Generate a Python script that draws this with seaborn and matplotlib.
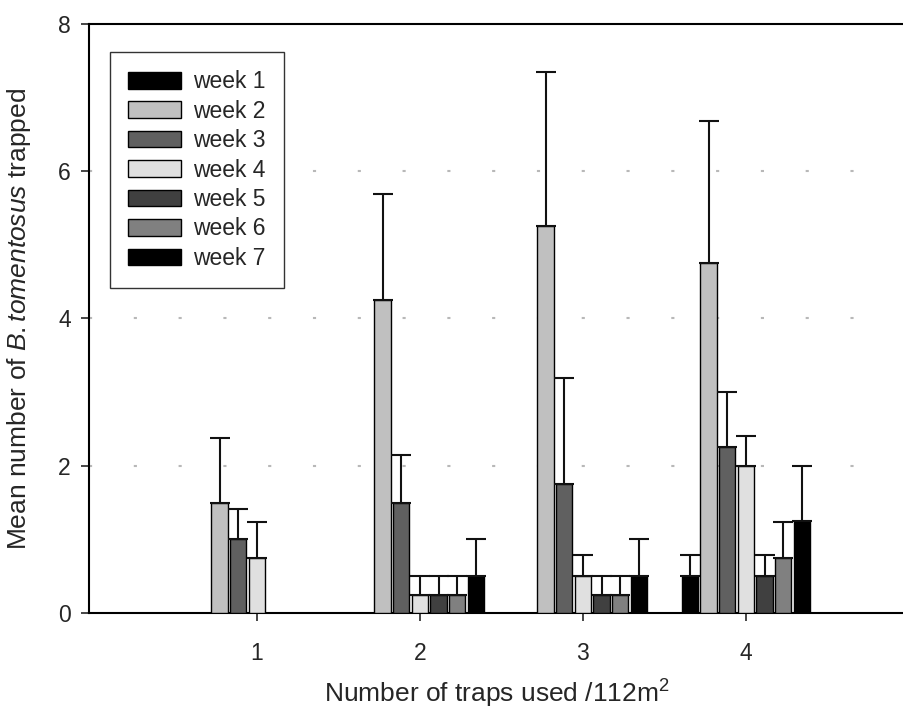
import matplotlib
matplotlib.use("Agg")
import matplotlib.pyplot as plt
import seaborn as sns
import pandas as pd
import numpy as np

# ---- data ----
traps = ["1", "2", "3", "4"]
weeks = ["week 1", "week 2", "week 3", "week 4", "week 5", "week 6", "week 7"]
means = {
    "week 1": [0.0, 0.0, 0.0, 0.5],
    "week 2": [1.5, 4.25, 5.25, 4.75],
    "week 3": [1.0, 1.5, 1.75, 2.25],
    "week 4": [0.75, 0.25, 0.5, 2.0],
    "week 5": [0.0, 0.25, 0.25, 0.5],
    "week 6": [0.0, 0.25, 0.25, 0.75],
    "week 7": [0.0, 0.5, 0.5, 1.25],
}
errors = {
    "week 1": [0.0, 0.0, 0.0, 0.29],
    "week 2": [0.87, 1.44, 2.1, 1.93],
    "week 3": [0.41, 0.65, 1.44, 0.75],
    "week 4": [0.48, 0.25, 0.29, 0.41],
    "week 5": [0.0, 0.25, 0.25, 0.29],
    "week 6": [0.0, 0.25, 0.25, 0.48],
    "week 7": [0.0, 0.5, 0.5, 0.75],
}
week_colors = ["#000000", "#c0c0c0", "#606060", "#e0e0e0", "#404040", "#808080", "#000000"]

rows = []
for w in weeks:
    for t, m in zip(traps, means[w]):
        rows.append({"traps": t, "week": w, "mean": m})
df = pd.DataFrame(rows)

sns.set_style("ticks")
plt.rcParams["font.family"] = ["Liberation Sans", "DejaVu Sans"]
plt.rcParams["mathtext.fontset"] = "custom"
plt.rcParams["mathtext.rm"] = "Liberation Sans"
plt.rcParams["mathtext.it"] = "Liberation Sans:italic"

fig = plt.figure(figsize=(9.04, 7.13), dpi=100)
ax = fig.add_axes([0.0985, 0.1403, 0.9015, 0.8260])

sns.barplot(data=df, x="traps", y="mean", hue="week", order=traps, hue_order=weeks,
            palette=week_colors, width=0.8, gap=0.12, edgecolor="black", linewidth=1.0,
            errorbar=None, ax=ax, zorder=3)

for cont, w in zip(ax.containers, weeks):
    for bar, e in zip(cont, errors[w]):
        if e <= 0:
            continue
        xc = bar.get_x() + bar.get_width() / 2
        h = bar.get_height()
        ax.errorbar([xc], [h], yerr=[[0], [e]], fmt="none", ecolor="#111111",
                    elinewidth=1.5, capsize=7.5, capthick=1.5, zorder=4)

ax.set_ylim(0, 8)
ax.set_xlim(-1.03, 3.97)
ax.set_yticks([0, 2, 4, 6, 8])
for yv in [2, 4, 6]:
    ax.axhline(yv, xmin=0, xmax=0.97, color="#b8b8b8", linestyle=(0, (1.5, 20)),
               linewidth=1.5, zorder=1)

ax.spines["right"].set_visible(False)
for s in ["left", "bottom", "top"]:
    ax.spines[s].set_visible(True)
    ax.spines[s].set_linewidth(1.5)
    ax.spines[s].set_color("black")

ax.tick_params(axis="x", direction="out", length=6, width=1.2, pad=15, labelsize=16.5)
ax.tick_params(axis="y", direction="out", length=6, width=1.2, pad=7, labelsize=16.5)

ax.set_xlabel("Number of traps used /112m$^2$", fontsize=19, labelpad=9)
ax.set_ylabel("Mean number of $\\it{B{.}tomentosus}$ trapped", fontsize=19)
ax.yaxis.set_label_coords(-0.069, 0.5)

leg = ax.legend(loc="upper left", bbox_to_anchor=(0.0255, 0.9525), frameon=True, fancybox=False,
                fontsize=16.5, handlelength=2.3, handleheight=0.74, labelspacing=0.28,
                borderpad=0.8, handletextpad=0.52, borderaxespad=0)
leg.get_frame().set_edgecolor("#333333")
leg.get_frame().set_linewidth(1.0)
leg.get_frame().set_alpha(1)

fig.savefig("out.png", dpi=100)
